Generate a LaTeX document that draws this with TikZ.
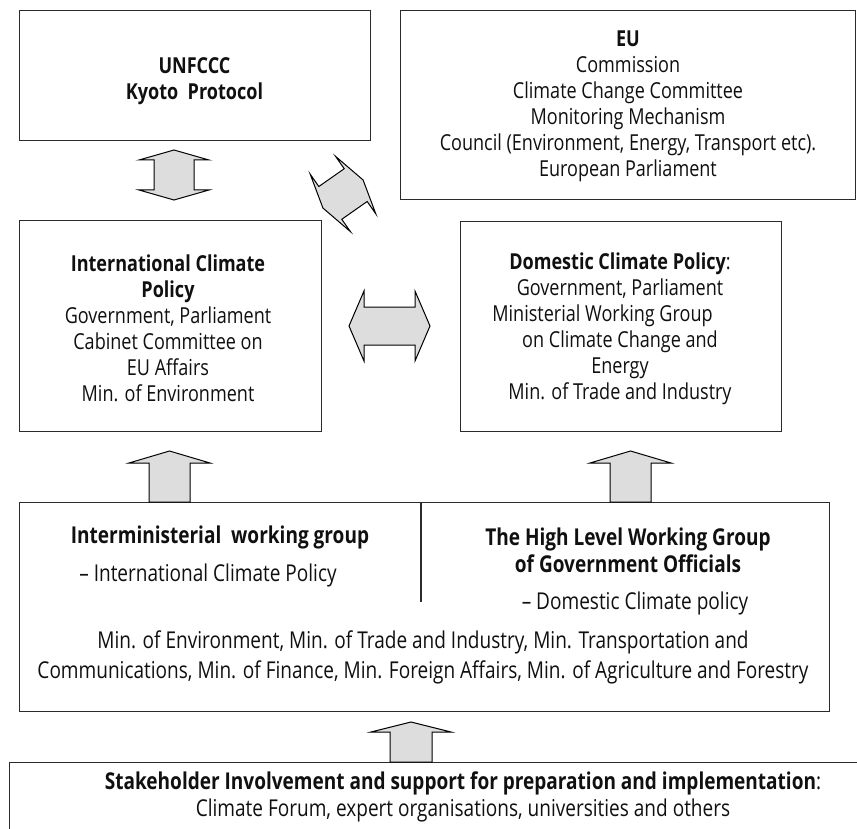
\documentclass[tikz,border=0pt]{standalone}
\usepackage{fontspec}
\setmainfont{Open Sans}[FakeStretch=0.82]
\definecolor{linec}{HTML}{2B2B2B}
\definecolor{txtc}{HTML}{101010}
\definecolor{arrfill}{HTML}{DDDDDD}
\tikzset{
  box/.style={draw=linec, line width=1.3pt, inner sep=0pt, anchor=north west},
  txt/.style={text=txtc, align=center, inner sep=0pt, font=\fontsize{22}{26}\selectfont},
  bigtxt/.style={txt, font=\fontsize{23.2}{27}\selectfont},
  mintxtstyle/.style={txt, font=\fontsize{23.2}{30}\selectfont},
  blockarrow/.style={draw=black, line width=1pt, fill=arrfill, line join=miter},
}
% centre x, centre y, rotation, length, wing span, shaft width, head length
\newcommand\dblarr[7]{%
  \draw[blockarrow, shift={(#1,#2)}, rotate=#3]
    (0,{-#4/2}) -- ({#5/2},{-#4/2+#7}) -- ({#6/2},{-#4/2+#7}) -- ({#6/2},{#4/2-#7})
    -- ({#5/2},{#4/2-#7}) -- (0,{#4/2}) -- ({-#5/2},{#4/2-#7}) -- ({-#6/2},{#4/2-#7})
    -- ({-#6/2},{-#4/2+#7}) -- ({-#5/2},{-#4/2+#7}) -- cycle;}
% centre x, tip y, base y, wing span, shaft width, head length
\newcommand\uparr[6]{%
  \draw[blockarrow]
    (#1,#2) -- ({#1+#4/2},{#2+#6}) -- ({#1+#5/2},{#2+#6}) -- ({#1+#5/2},#3)
    -- ({#1-#5/2},#3) -- ({#1-#5/2},{#2+#6}) -- ({#1-#4/2},{#2+#6}) -- cycle;}
\begin{document}
\begin{tikzpicture}[x=1pt,y=-1pt]
\useasboundingbox (0,0) rectangle (857,829);
\fill[white] (0,0) rectangle (857,829);

% boxes
\node[box, minimum width=351pt, minimum height=130pt] (unf) at (19,10) {};
\node[box, minimum width=455pt, minimum height=189pt] (eu) at (400,10) {};
\node[box, minimum width=302pt, minimum height=211pt] (intl) at (19,220) {};
\node[box, minimum width=321pt, minimum height=210pt] (dom) at (460,221) {};
\node[box, minimum width=810pt, minimum height=209pt] (mins) at (19,502) {};
\node[box, minimum width=900pt, minimum height=100pt] (stake) at (9,762) {};
\coordinate (divtop) at (421,502);
\coordinate (divbot) at (421,602);
\draw[linec, line width=1.1pt] (divtop) -- (divbot);

% texts
\node[txt] (unftxt) at (194.5,81) {\textbf{UNFCCC}\\\textbf{Kyoto\ \ Protocol}};
\node[txt] (eutxt) at (628,106) {\textbf{EU}\\Commission\\Climate Change Committee\\Monitoring Mechanism\\Council (Environment, Energy, Transport etc).\\European Parliament};
\node[txt] (inttxt) at (168,328) {\textbf{International Climate}\\\textbf{Policy}\\Government, Parliament\\Cabinet Committee on\\EU Affairs\\Min. of Environment};
\node[txt] (domtxt) at (620,329) {\textbf{Domestic Climate Policy}:\\Government, Parliament\\Ministerial Working Group\hspace*{35pt}\mbox{}\\on Climate Change and\\Energy\\Min. of Trade and Industry};
\node[bigtxt] (imtxt) at (220,537) {\textbf{Interministerial\ \ working group}};
\node[bigtxt] (imsub) at (208,575) {– International Climate Policy};
\node[bigtxt] (hltxt) at (628,550) {\textbf{The High Level Working Group}\\\textbf{of Government Officials}};
\node[bigtxt] (hlsub) at (635,603) {– Domestic Climate policy};
\node[mintxtstyle] (mintxt) at (423,657) {Min. of Environment, Min. of Trade and Industry, Min. Transportation and\\Communications, Min. of Finance, Min. Foreign Affairs, Min. of Agriculture and Forestry};
\node[bigtxt] (stktxt) at (463,797) {\textbf{Stakeholder Involvement and support for preparation and implementation}:\\Climate Forum, expert organisations, universities and others};

% block arrows
\dblarr{174}{175}{0}{50}{70}{40}{10}
\dblarr{343}{194}{-55}{49}{70}{40}{9}
\dblarr{389.5}{326}{90}{81}{70}{38}{15}
\uparr{169.5}{451}{502}{81}{41}{12}
\uparr{630.5}{451}{502}{81}{41}{12}
\uparr{411}{722}{762}{80}{42}{10}
\end{tikzpicture}
\end{document}
